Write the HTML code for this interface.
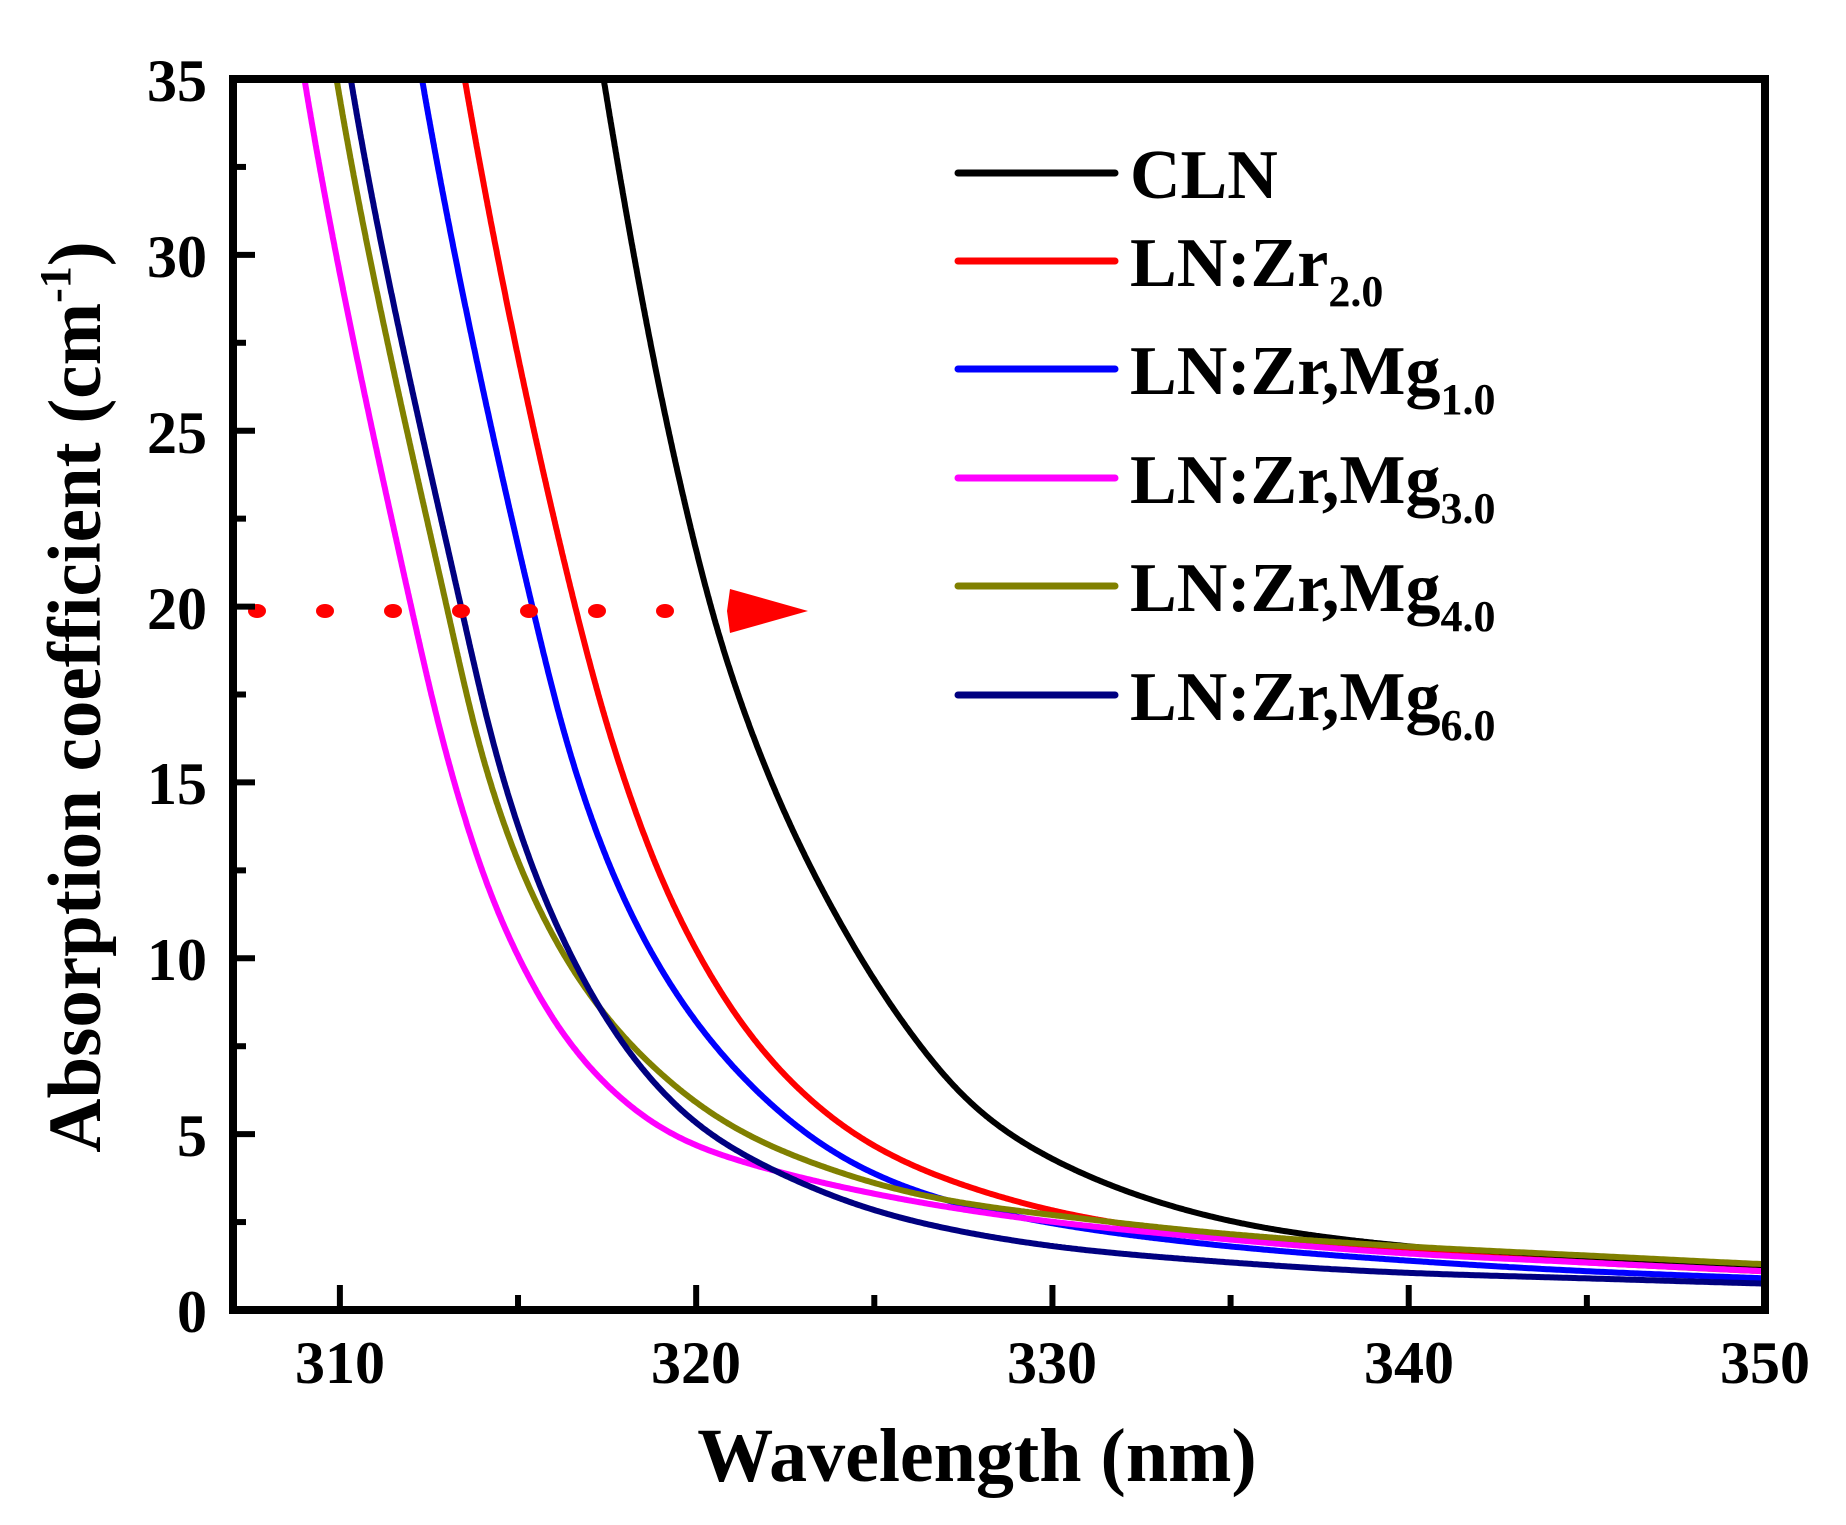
<!DOCTYPE html>
<html><head><meta charset="utf-8"><style>
html,body{margin:0;padding:0;background:#fff;}
svg{display:block;}
text{font-family:"Liberation Serif",serif;font-weight:bold;fill:#000;}
</style></head><body>
<svg id="s" width="1846" height="1525" viewBox="0 0 1846 1525" xmlns="http://www.w3.org/2000/svg">
<defs><clipPath id="c"><rect x="233" y="79" width="1532" height="1231"/></clipPath></defs>
<g id="curves" clip-path="url(#c)"></g>
<g id="arrow"></g>
<g id="ticks" stroke="#000" stroke-width="6"></g>
<rect x="233" y="79" width="1532" height="1231" fill="none" stroke="#000" stroke-width="8"/>
<g font-size="60" text-anchor="end">
<text x="207" y="101">35</text><text x="207" y="277">30</text><text x="207" y="453">25</text>
<text x="207" y="629">20</text><text x="207" y="804">15</text><text x="207" y="980">10</text>
<text x="207" y="1156">5</text><text x="207" y="1332">0</text>
</g>
<g font-size="60" text-anchor="middle">
<text x="340" y="1383">310</text><text x="696" y="1383">320</text><text x="1052" y="1383">330</text>
<text x="1409" y="1383">340</text><text x="1765" y="1383">350</text>
</g>
<text x="977" y="1481" font-size="76" text-anchor="middle">Wavelength (nm)</text>
<text transform="translate(100,697) rotate(-90)" font-size="75" text-anchor="middle">Absorption coefficient (cm<tspan font-size="44" dy="-30">-1</tspan><tspan dy="30">)</tspan></text>
<g id="legend" font-size="70"></g>
</svg>
<script>
var X=function(v){return 233+(v-307)*1532/43;},Y=function(v){return 1310-v*1231/35;};
var ns="http://www.w3.org/2000/svg";
function el(p,t,a){var e=document.createElementNS(ns,t);for(var k in a)e.setAttribute(k,a[k]);p.appendChild(e);return e;}
var tk=document.getElementById('ticks');
for(var v=0;v<=35;v+=2.5){var L=(v%5==0)?22:13;el(tk,'line',{x1:233,x2:233+L,y1:Y(v),y2:Y(v)});}
for(var w=310;w<350;w+=5){var L=(w%10==0)?25:15;el(tk,'line',{x1:X(w),x2:X(w),y1:1310,y2:1310-L});}
var data=[
['#000',[[316.0,45],[317.4,35],[320.4,20],[322.1,15],[324.6,10],[326.2,7.6],[327.9,5.6],[330,4.25],[335,2.5],[340,1.8],[345,1.45],[350,1.2],[356,0.9]]],
['#ff0000',[[312.0,45],[313.5,35],[316.6,20],[318,15],[320.1,10],[324.2,5.1],[330,2.8],[335,2.05],[340,1.65],[345,1.35],[350,1.1],[356,0.85]]],
['#0000ff',[[310.8,45],[312.3,35],[315.4,20],[316.7,15],[318.8,10],[322.9,5.1],[326,3.4],[330,2.45],[335,1.8],[340,1.4],[345,1.1],[350,0.9],[356,0.7]]],
['#ff00ff',[[307.6,45],[309,35],[312,20],[313.2,15],[315,10],[319.1,5],[322,4.0],[326,3.1],[330,2.5],[335,2],[340,1.6],[345,1.35],[350,1.1],[356,0.85]]],
['#808000',[[308.5,45],[309.9,35],[313,20],[314.2,15],[316.3,10],[320.6,5.4],[324,3.9],[327,3.1],[330,2.7],[335,2.15],[340,1.8],[345,1.55],[350,1.3],[356,1.05]]],
['#000080',[[308.9,45],[310.3,35],[313.4,20],[314.6,15],[316.5,10],[320,5.2],[322.5,3.8],[325,2.8],[330,1.8],[335,1.35],[340,1.05],[345,0.9],[350,0.75],[356,0.6]]]
];
function curve(pts){var q=pts.slice().reverse();var n=q.length,ys=q.map(p=>p[1]),xs=q.map(p=>p[0]);
var h=[],d=[],m=[];for(var i=0;i<n-1;i++){h.push(ys[i+1]-ys[i]);d.push((xs[i+1]-xs[i])/h[i]);}
m[0]=d[0];m[n-1]=d[n-2];
for(i=1;i<n-1;i++){if(d[i-1]*d[i]<=0)m[i]=0;else{var w1=2*h[i]+h[i-1],w2=h[i]+2*h[i-1];m[i]=(w1+w2)/(w1/d[i-1]+w2/d[i]);}}
var out=[];for(i=0;i<n-1;i++){for(var k=0;k<80;k++){var t=k/80,t2=t*t,t3=t2*t,H=h[i];
var x=(2*t3-3*t2+1)*xs[i]+(t3-2*t2+t)*H*m[i]+(-2*t3+3*t2)*xs[i+1]+(t3-t2)*H*m[i+1];
out.push([X(x),Y(ys[i]+t*H)]);}}out.push([X(xs[n-1]),Y(ys[n-1])]);return out;}
function resample(P,step){var out=[P[0]];for(var i=1;i<P.length;i++){var a=out[out.length-1],b=P[i];
var dx=b[0]-a[0],dy=b[1]-a[1],L=Math.hypot(dx,dy);while(L>=step){var t=step/L;a=[a[0]+dx*t,a[1]+dy*t];out.push(a);dx=b[0]-a[0];dy=b[1]-a[1];L=Math.hypot(dx,dy);}}
out.push(P[P.length-1]);return out;}
function smooth(P,sig){var r=Math.ceil(sig*2.5),out=[];for(var i=0;i<P.length;i++){var rr=Math.min(r,i,P.length-1-i);
var sx=0,sy=0,sw=0;for(var j=-rr;j<=rr;j++){var w=Math.exp(-j*j/(2*sig*sig));sx+=P[i+j][0]*w;sy+=P[i+j][1]*w;sw+=w;}out.push([sx/sw,sy/sw]);}return out;}
var cg=document.getElementById('curves');
data.forEach(function(s){var P=smooth(resample(curve(s[1]),2),22);
el(cg,'path',{d:'M'+P.map(p=>p[0].toFixed(1)+','+p[1].toFixed(1)).join(' L'),fill:'none',stroke:s[0],'stroke-width':6,'stroke-linejoin':'round'});});
var ag=document.getElementById('arrow');
for(var x=257;x<720;x+=68)el(ag,'ellipse',{cx:x,cy:611,rx:9,ry:7,fill:'#ff0000'});
el(ag,'polygon',{points:'730,589 808,611 730,633 727,611',fill:'#ff0000'});
var lg=document.getElementById('legend');
var labs=[['CLN',''],['LN:Zr','2.0'],['LN:Zr,Mg','1.0'],['LN:Zr,Mg','3.0'],['LN:Zr,Mg','4.0'],['LN:Zr,Mg','6.0']];
var ys=[173,261,369,478,586,695];
labs.forEach(function(l,i){el(lg,'line',{x1:958,x2:1115,y1:ys[i],y2:ys[i],stroke:data[i][0],'stroke-width':7,'stroke-linecap':'round'});
var t=el(lg,'text',{x:1130,y:ys[i]+25});t.textContent=l[0];
if(l[1]){var s=el(t,'tspan',{'font-size':44,dy:20});s.textContent=l[1];}});
</script>
</body></html>
